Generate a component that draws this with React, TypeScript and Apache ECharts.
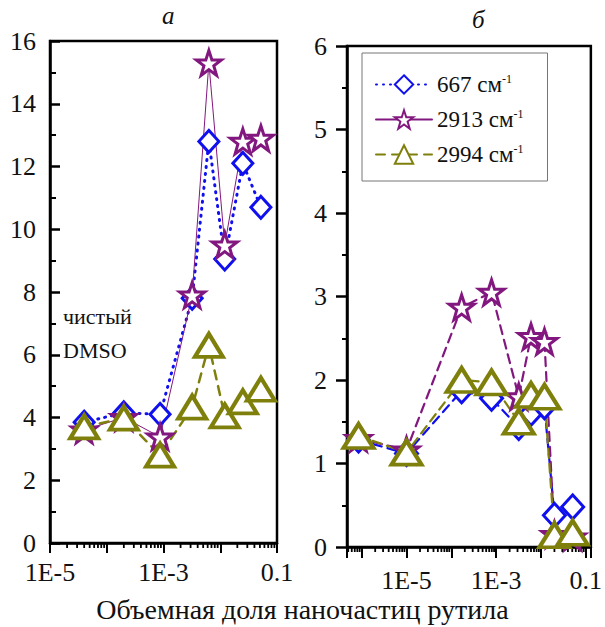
import React, { useEffect, useRef } from "react";
import * as echarts from "echarts";

// ---- data ----
const seriesNames = ["667", "2913", "2994"];

// panel а
const xA = [4e-5, 2e-4, 8.7e-4, 3.2e-3, 6.3e-3, 1.2e-2, 2.5e-2, 5.2e-2];
const a667 = [3.85, 4.15, 4.1, 7.8, 12.8, 9.05, 12.1, 10.7];
const a2913 = [3.6, 4.0, 3.38, 7.9, 15.3, 9.5, 12.8, 12.9];
const a2994 = [3.7, 3.98, 2.8, 4.33, 6.3, 4.05, 4.5, 4.9];

// panel б
const xB = [8.5e-7, 1e-5, 1.7e-4, 7.9e-4, 3.2e-3, 6e-3, 1.2e-2, 2e-2, 5.1e-2];
const b667 = [1.28, 1.12, 1.87, 1.78, 1.43, 1.6, 1.68, 0.38, 0.48];
const b2913 = [1.3, 1.16, 2.87, 3.05, 1.8, 2.52, 2.46, 0.15, 0.12];
const b2994 = [1.33, 1.13, 2.0, 1.97, 1.5, 1.82, 1.8, 0.14, 0.17];

// axis extents / tick labels
const xAMin = 1e-5;
const xAMax = 0.1;
const xBMin = 4.7e-7;
const xBMax = 0.13;
const yAMax = 16;
const yBMax = 6;
const xTickLabels: Record<number, string> = { [-5]: "1E-5", [-3]: "1E-3", [-1]: "0.1" };

const FAM = "Liberation Serif";
const FONT = "'Liberation Serif', serif";
const BLUE = "#1010ee";
const PURPLE = "#82187f";
const OLIVE = "#7f800c";
const STAR = "path://M50,2 L61.5,36 L97,36 L68.5,57 L79,92 L50,71 L21,92 L31.5,57 L3,36 L38.5,36 Z";

function minorTicks(min: number, max: number): number[][] {
  const out: number[][] = [];
  for (let d = -8; d <= 0; d++) {
    for (let k = 2; k <= 9; k++) {
      const v = k * Math.pow(10, d);
      if (v > min && v < max) out.push([v, 0]);
    }
  }
  return out;
}

function labelFmt(v: number) {
  const l = Math.log10(v);
  const e = Math.round(l);
  if (Math.abs(l - e) > 0.01) return "";
  return xTickLabels[e] || "";
}

function zip(xs: number[], ys: number[]) {
  return xs.map((x, i) => [x, ys[i]]);
}

export default function App() {
  const ref = useRef<HTMLDivElement>(null);
  useEffect(() => {
    if (!ref.current) return;
    const chart = echarts.init(ref.current, undefined, { renderer: "svg" });

    const lineSeries = (
      name: string,
      data: number[][],
      axis: number,
      color: string,
      symbol: string,
      size: number | number[],
      lineType: any,
      lineWidth: number,
      borderWidth: number
    ) => ({
      type: "line",
      name,
      data,
      xAxisIndex: axis,
      yAxisIndex: axis,
      symbol,
      symbolSize: size,
      showAllSymbol: true,
      lineStyle: { color, width: lineWidth, type: lineType, cap: "round" },
      itemStyle: { color: "#fff", borderColor: color, borderWidth },
      z: 3,
    });

    const tickSeries = (axis: number, data: number[][]) => ({
      type: "custom",
      xAxisIndex: axis,
      yAxisIndex: axis,
      silent: true,
      clip: false,
      data,
      encode: { x: 0, y: 1 },
      renderItem: (params: any, api: any) => {
        const p = api.coord([api.value(0), 0]);
        return {
          type: "line",
          shape: { x1: p[0], y1: p[1], x2: p[0], y2: p[1] + 5 },
          style: { stroke: "#000", lineWidth: 1.8 },
        };
      },
    });

    const axisLabelY = { fontFamily: FAM, fontSize: 26, color: "#111" };

    chart.setOption({
      animation: false,
      textStyle: { fontFamily: FAM },
      grid: [
        { left: 50, top: 41, width: 227, height: 502, show: true, borderColor: "#000", borderWidth: 2.5, backgroundColor: "transparent" },
        { left: 347, top: 46, width: 246, height: 501, show: true, borderColor: "#000", borderWidth: 2.5, backgroundColor: "transparent" },
      ],
      xAxis: [
        {
          type: "log",
          gridIndex: 0,
          min: xAMin,
          max: xAMax,
          axisLine: { lineStyle: { color: "#000", width: 2.5 } },
          axisTick: { show: true, length: 10, inside: false, lineStyle: { color: "#000", width: 2 } },
          axisLabel: { formatter: labelFmt, margin: 16, fontFamily: FAM, fontSize: 26, color: "#111", showMinLabel: true, showMaxLabel: true },
          splitLine: { show: false },
          minorTick: { show: false },
        },
        {
          type: "log",
          gridIndex: 1,
          min: xBMin,
          max: xBMax,
          axisLine: { lineStyle: { color: "#000", width: 2.5 } },
          axisTick: { show: true, length: 11, inside: false, lineStyle: { color: "#000", width: 2 } },
          axisLabel: { formatter: labelFmt, margin: 20, fontFamily: FAM, fontSize: 26, color: "#111", showMinLabel: true, showMaxLabel: true },
          splitLine: { show: false },
          minorTick: { show: false },
        },
      ],
      yAxis: [
        {
          type: "value",
          gridIndex: 0,
          min: 0,
          max: yAMax,
          interval: 2,
          axisLine: { show: true, lineStyle: { color: "#000", width: 2.5 } },
          axisTick: { show: true, inside: true, length: 10, lineStyle: { color: "#000", width: 2.5 } },
          minorTick: { show: true, splitNumber: 2, length: 6, lineStyle: { color: "#000", width: 2 } },
          axisLabel: { ...axisLabelY, margin: 14 },
          splitLine: { show: false },
        },
        {
          type: "value",
          gridIndex: 1,
          min: 0,
          max: yBMax,
          interval: 1,
          axisLine: { show: true, lineStyle: { color: "#000", width: 2.5 } },
          axisTick: { show: true, inside: false, length: 11, lineStyle: { color: "#000", width: 2.5 } },
          minorTick: { show: true, splitNumber: 2, length: 5, lineStyle: { color: "#000", width: 2 } },
          axisLabel: { ...axisLabelY, margin: 20 },
          splitLine: { show: false },
        },
      ],
      legend: {
        data: seriesNames,
        orient: "vertical",
        left: 362,
        top: 53,
        padding: [20, 24, 15, 13],
        itemGap: 12,
        itemWidth: 56,
        itemHeight: 23,
        borderColor: "#777",
        borderWidth: 1,
        backgroundColor: "#fff",
        formatter: (name: string) => `{a|${name} см}{b|-1}`,
        textStyle: {
          fontFamily: FAM,
          color: "#111",
          rich: {
            a: { fontFamily: FAM, fontSize: 23, color: "#111" },
            b: { fontFamily: FAM, fontSize: 12, color: "#111", verticalAlign: "top" },
          },
        },
      },
      graphic: [
        { type: "text", left: 162, top: 3, style: { text: "а", font: `italic 25px ${FONT}`, fill: "#111" } },
        { type: "text", left: 472, top: 7, style: { text: "б", font: `italic 25px ${FONT}`, fill: "#111" } },
        { type: "text", left: 63, top: 305, style: { text: "чистый", font: `22px ${FONT}`, fill: "#111" } },
        { type: "text", left: 63, top: 339, style: { text: "DMSO", font: `22px ${FONT}`, fill: "#111" } },
        { type: "text", left: "center", top: 595, style: { text: "Объемная доля наночастиц рутила", font: `28px ${FONT}`, fill: "#111" } },
      ],
      series: [
        lineSeries(seriesNames[0], zip(xA, a667), 0, BLUE, "diamond", [20, 22], [1, 6], 3, 3),
        lineSeries(seriesNames[1], zip(xA, a2913), 0, PURPLE, STAR, 25, "solid", 1, 3),
        lineSeries(seriesNames[2], zip(xA, a2994), 0, OLIVE, "triangle", [28, 23], [9, 7], 2.5, 4),
        lineSeries(seriesNames[0], zip(xB, b667), 1, BLUE, "diamond", [22, 24], [9, 6], 2.2, 3),
        lineSeries(seriesNames[1], zip(xB, b2913), 1, PURPLE, STAR, 25, [9, 6], 2.2, 3),
        lineSeries(seriesNames[2], zip(xB, b2994), 1, OLIVE, "triangle", [30, 24], [9, 6], 2.2, 4),
        tickSeries(0, minorTicks(xAMin, xAMax)),
        tickSeries(1, minorTicks(xBMin, xBMax)),
      ],
    });
    return () => chart.dispose();
  }, []);
  return <div ref={ref} style={{ position: "fixed", left: 0, top: 0, width: 605, height: 627, background: "#fff" }} />;
}
